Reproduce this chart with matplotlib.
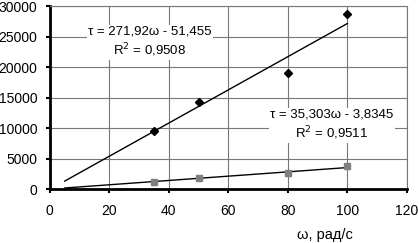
import numpy as np
import matplotlib
matplotlib.use("Agg")
import matplotlib.pyplot as plt

plt.rcParams['font.family'] = ['Liberation Sans', 'DejaVu Sans']

# measured points
omega = [35, 50, 80, 100]
tau_top = [9600, 14300, 19000, 28700]
tau_bottom = [1200, 1800, 2600, 3700]

# trendline coefficients (from the equations on the chart)
fit_top = [271.92, -51.455]
fit_bottom = [35.303, -3.8345]
fit_range = [5, 100]

label_top = "τ = 271,92ω - 51,455\nR$^2$ = 0,9508"
label_bottom = "τ = 35,303ω - 3,8345\nR$^2$ = 0,9511"

xticks = [0, 20, 40, 60, 80, 100, 120]
yticks = [0, 5000, 10000, 15000, 20000, 25000, 30000]

fig = plt.figure(figsize=(4.19, 2.43), dpi=100)
ax = fig.add_axes([0.119, 0.222, 0.852, 0.753])

xs = np.array(fit_range)
ax.plot(xs, np.polyval(fit_top, xs), color='black', lw=1, zorder=3)
ax.plot(xs, np.polyval(fit_bottom, xs), color='black', lw=1, zorder=3)

ax.plot(omega, tau_top, linestyle='none', marker='D', markersize=4,
        color='black', zorder=4)
ax.plot(omega, tau_bottom, linestyle='none', marker='s', markersize=4.5,
        color='#7f7f7f', zorder=4)

ax.set_xlim(0, 120)
ax.set_ylim(0, 30000)
ax.set_xticks(xticks)
ax.set_yticks(yticks)
ax.tick_params(labelsize=10, length=3, width=1.5)
ax.tick_params(axis='x', pad=8)
ax.tick_params(axis='y', pad=6)
ax.grid(True, color='#777777', lw=0.8)
ax.set_axisbelow(True)

for s in ['left', 'bottom']:
    ax.spines[s].set_linewidth(2)
for s in ['top', 'right']:
    ax.spines[s].set_color('#777777')
    ax.spines[s].set_linewidth(0.8)

ax.text(33.6, 24100, label_top, ha='center', va='center', fontsize=9.5,
        linespacing=1.3, zorder=5,
        bbox=dict(facecolor='white', edgecolor='none', pad=1))
ax.text(94.8, 10500, label_bottom, ha='center', va='center', fontsize=9.5,
        linespacing=1.3, zorder=5,
        bbox=dict(facecolor='white', edgecolor='none', pad=1))

ax.set_xlabel("ω, рад/с", fontsize=10.5, va='center')
ax.xaxis.set_label_coords(0.77, -0.251)

fig.savefig("out.png", dpi=100)
